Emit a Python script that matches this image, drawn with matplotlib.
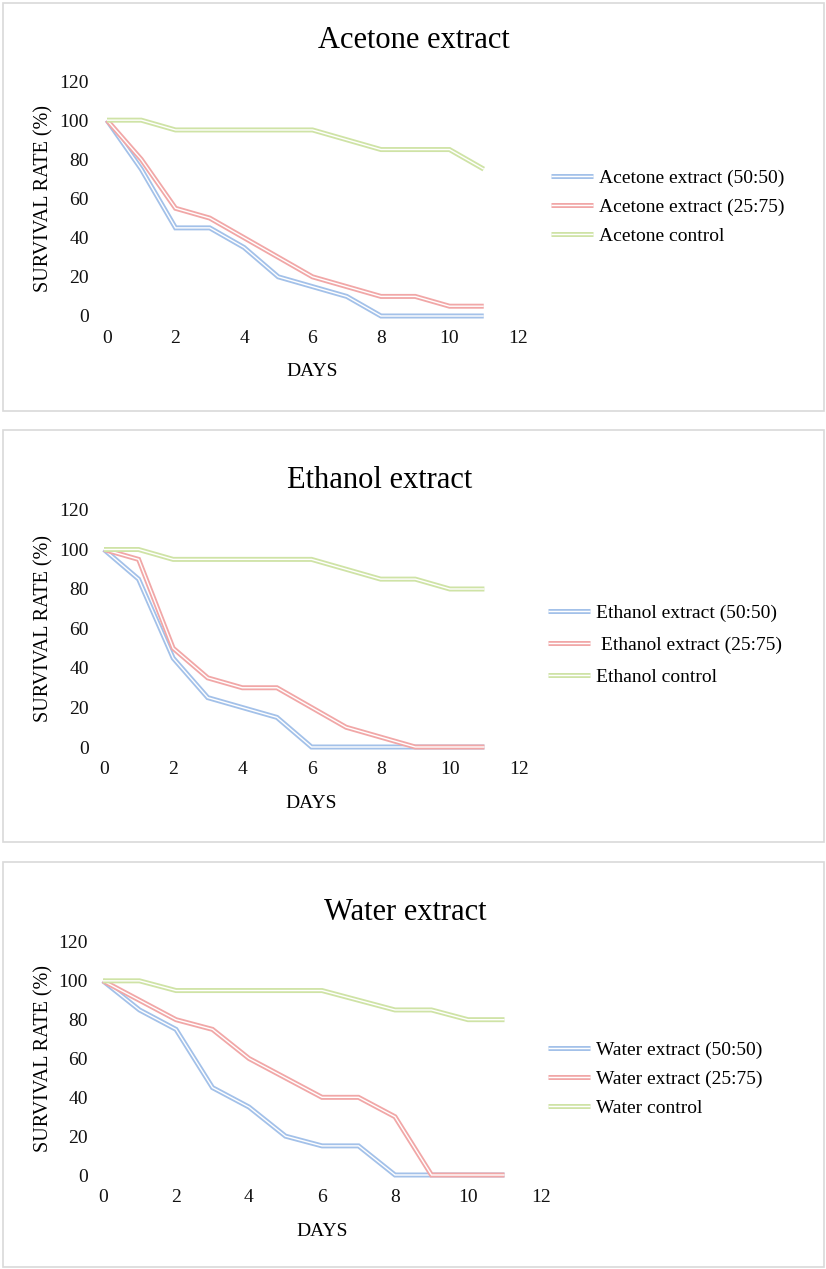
import numpy as np
import matplotlib
matplotlib.use('Agg')
import matplotlib.pyplot as plt
from matplotlib.patches import Rectangle
from matplotlib.legend_handler import HandlerTuple

plt.rcParams['font.family'] = ['Liberation Serif', 'DejaVu Serif']

days = [0, 1, 2, 3, 4, 5, 6, 7, 8, 9, 10, 11]

# acetone
acetone_5050 = [100, 75, 45, 45, 35, 20, 15, 10, 0, 0, 0, 0]
acetone_2575 = [100, 80, 55, 50, 40, 30, 20, 15, 10, 10, 5, 5]
acetone_ctrl = [100, 100, 95, 95, 95, 95, 95, 90, 85, 85, 85, 75]

# ethanol
ethanol_5050 = [100, 85, 45, 25, 20, 15, 0, 0, 0, 0, 0, 0]
ethanol_2575 = [100, 95, 50, 35, 30, 30, 20, 10, 5, 0, 0, 0]
ethanol_ctrl = [100, 100, 95, 95, 95, 95, 95, 90, 85, 85, 80, 80]

# water
water_5050 = [100, 85, 75, 45, 35, 20, 15, 15, 0, 0, 0, 0]
water_2575 = [100, 90, 80, 75, 60, 50, 40, 40, 30, 0, 0, 0]
water_ctrl = [100, 100, 95, 95, 95, 95, 95, 90, 85, 85, 80, 80]

colors = ['#a3c1e9', '#f1a7a7', '#cfe3a6']

W, H = 826, 1269
fig = plt.figure(figsize=(W / 100, H / 100), dpi=100)


def px_box(left, right, top, bottom):
    return [left / W, 1 - bottom / H, (right - left) / W, (bottom - top) / H]


def panel(box, border, title, title_xy, series, labels, ypad, leg_xy, leg_space):
    # grey frame round the chart
    x0, y0, x1, y1 = border
    fig.add_artist(Rectangle((x0 / W, 1 - y1 / H), (x1 - x0) / W, (y1 - y0) / H,
                             transform=fig.transFigure, fill=False,
                             edgecolor='#d9d9d9', lw=1.2))
    fig.text(title_xy[0] / W, 1 - title_xy[1] / H, title, ha='center', va='center',
             fontsize=22)

    ax = fig.add_axes(px_box(*box))
    handles = []
    for i, vals in enumerate(series):
        # excel style double line: wide coloured line with a thin white core
        l1, = ax.plot(days, vals, color=colors[i], lw=3.6, clip_on=False,
                      solid_joinstyle='miter', solid_capstyle='butt', zorder=2 + i)
        l2, = ax.plot(days, vals, color='white', lw=1.0, clip_on=False,
                      solid_joinstyle='miter', solid_capstyle='butt', zorder=2 + i)
        handles.append((l1, l2))

    ax.set_xlim(0, 12)
    ax.set_ylim(0, 120)
    ax.set_xticks(np.arange(0, 13, 2))
    ax.set_yticks(np.arange(0, 121, 20))
    ax.tick_params(axis='both', length=0, labelsize=14, colors='#111111')
    ax.tick_params(axis='y', pad=ypad)
    ax.tick_params(axis='x', pad=10)
    for s in ax.spines.values():
        s.set_visible(False)

    w = box[1] - box[0]
    h = box[3] - box[2]
    ax.set_xlabel('DAYS', fontsize=14)
    ax.xaxis.set_label_coords(0.5, -56 / h)
    ax.xaxis.label.set_va('center')
    ax.set_ylabel('SURVIVAL RATE (%)', fontsize=14.5)
    ax.yaxis.set_label_coords(-(box[0] - 44) / w, 0.5)
    ax.yaxis.label.set_va('center')

    fig.legend(handles, labels, handler_map={tuple: HandlerTuple(ndivide=1, pad=0)},
               loc='center left', bbox_to_anchor=(leg_xy[0] / W, 1 - leg_xy[1] / H),
               frameon=False, fontsize=14, handlelength=2.15, handletextpad=0.3,
               borderpad=0, borderaxespad=0, labelspacing=leg_space)
    return ax


panel((107, 518, 81, 316), (3, 3, 824, 411), 'Acetone extract', (414, 41),
      [acetone_5050, acetone_2575, acetone_ctrl],
      ['Acetone extract (50:50)', 'Acetone extract (25:75)', 'Acetone control'],
      13, (551, 207), 0.6)

panel((104, 519, 510, 747), (3, 430, 824, 842), 'Ethanol extract', (380, 480),
      [ethanol_5050, ethanol_2575, ethanol_ctrl],
      ['Ethanol extract (50:50)', ' Ethanol extract (25:75)', 'Ethanol control'],
      11, (548, 645), 0.75)

panel((103, 541, 942, 1175), (3, 862, 824, 1267), 'Water extract', (405, 913),
      [water_5050, water_2575, water_ctrl],
      ['Water extract (50:50)', 'Water extract (25:75)', 'Water control'],
      11, (548, 1079), 0.58)

fig.savefig('out.png', dpi=100)
